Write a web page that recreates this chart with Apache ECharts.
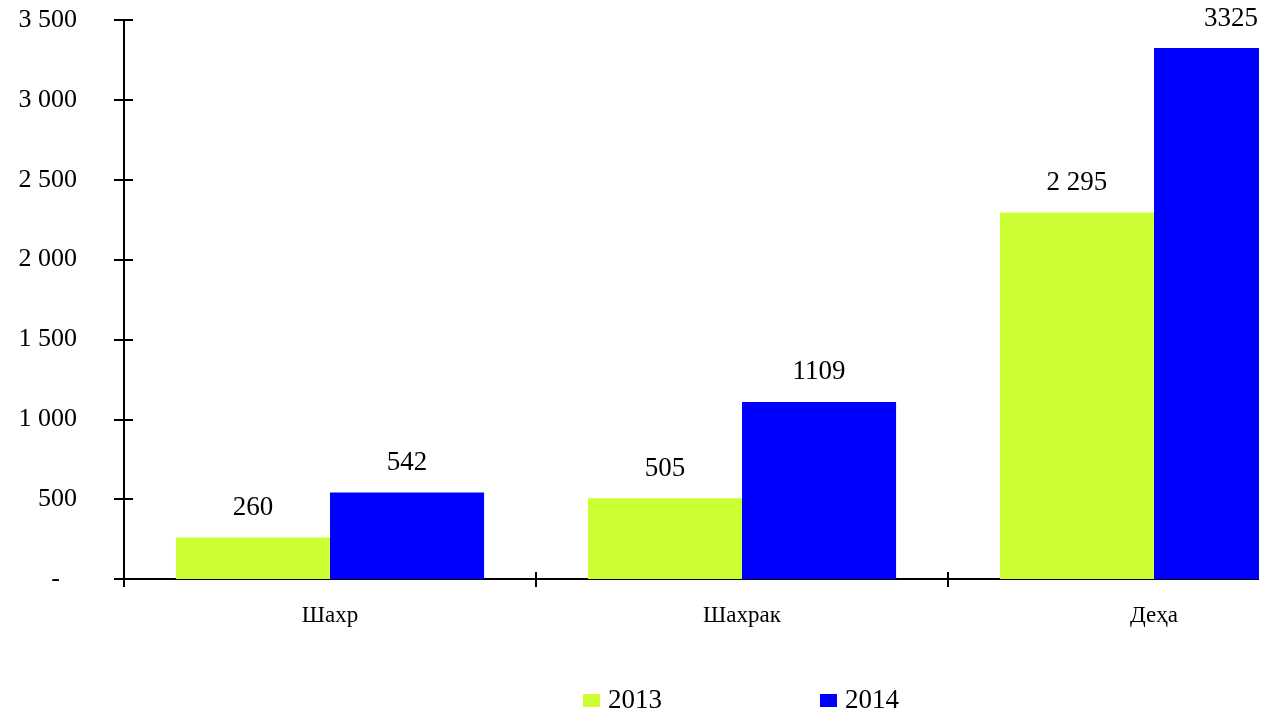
<!DOCTYPE html>
<html>
<head>
<meta charset="utf-8">
<script src="https://cdn.jsdelivr.net/npm/echarts@6/dist/echarts.min.js"></script>
<style>
html,body{margin:0;padding:0;background:#fff;}
#c{width:1259px;height:712px;}
</style>
</head>
<body>
<div id="c"></div>
<script>
const categories = ['Шахр', 'Шахрак', 'Деҳа'];
const seriesNames = ['2013', '2014'];
const values2013 = [260, 505, 2295];
const values2014 = [542, 1109, 3325];
const yTicks = [0, 500, 1000, 1500, 2000, 2500, 3000, 3500];

const FONT = 'Liberation Serif';
function spaced(v, sep) {
  return String(v).replace(/\B(?=(\d{3})+(?!\d))/g, sep || ' ');
}
const chart = echarts.init(document.getElementById('c'), null, {renderer: 'canvas'});
chart.setOption({
  animation: false,
  backgroundColor: '#fff',
  textStyle: {fontFamily: FONT},
  legend: {
    data: seriesNames,
    left: 578,
    top: 682,
    itemWidth: 17,
    itemHeight: 13,
    itemGap: 158,
    icon: 'rect',
    textStyle: {fontFamily: FONT, fontSize: 27, color: '#000', padding: [0, 0, 0, 3]}
  },
  grid: {left: 124, top: 20, width: 1236, height: 559, containLabel: false, outerBoundsMode: 'none'},
  xAxis: [{
    type: 'category',
    data: categories,
    position: 'bottom',
    axisLine: {lineStyle: {color: '#000', width: 2}},
    axisTick: {show: true, inside: false, length: 8, lineStyle: {color: '#000', width: 2}},
    axisLabel: {fontFamily: FONT, fontSize: 23, color: '#000', margin: 25},
    splitLine: {show: false}
  }, {
    type: 'category',
    data: categories,
    position: 'bottom',
    axisLine: {show: false},
    axisTick: {show: true, inside: true, length: 7, lineStyle: {color: '#000', width: 2}},
    axisLabel: {show: false},
    splitLine: {show: false}
  }],
  yAxis: [{
    type: 'value',
    min: yTicks[0],
    max: yTicks[yTicks.length - 1],
    interval: 500,
    position: 'left',
    axisLine: {show: true, lineStyle: {color: '#000', width: 2}},
    axisTick: {show: true, inside: false, length: 10, lineStyle: {color: '#000', width: 2}},
    axisLabel: {
      fontFamily: FONT, fontSize: 26, color: '#000', margin: 47,
      formatter: v => v === 0 ? '{z|-}' : spaced(v),
      rich: {z: {fontFamily: FONT, fontSize: 26, color: '#000', padding: [0, 17, 0, 0]}}
    },
    splitLine: {show: false}
  }, {
    type: 'value',
    min: yTicks[0],
    max: yTicks[yTicks.length - 1],
    interval: 500,
    position: 'left',
    axisLine: {show: false},
    axisTick: {show: true, inside: true, length: 9, lineStyle: {color: '#000', width: 2}},
    axisLabel: {show: false},
    splitLine: {show: false}
  }],
  series: [{
    name: seriesNames[0],
    type: 'bar',
    data: values2013,
    barGap: '0%',
    barCategoryGap: '25.2%',
    itemStyle: {color: '#CCFF33'},
    label: {show: true, position: 'top', distance: 16, fontFamily: FONT, fontSize: 27, color: '#000',
      formatter: p => spaced(p.value)}
  }, {
    name: seriesNames[1],
    type: 'bar',
    data: values2014,
    barGap: '0%',
    barCategoryGap: '25.2%',
    itemStyle: {color: '#0000FF'},
    label: {show: true, position: 'top', distance: 16, fontFamily: FONT, fontSize: 27, color: '#000',
      formatter: p => String(p.value)}
  }]
});
</script>
</body>
</html>
